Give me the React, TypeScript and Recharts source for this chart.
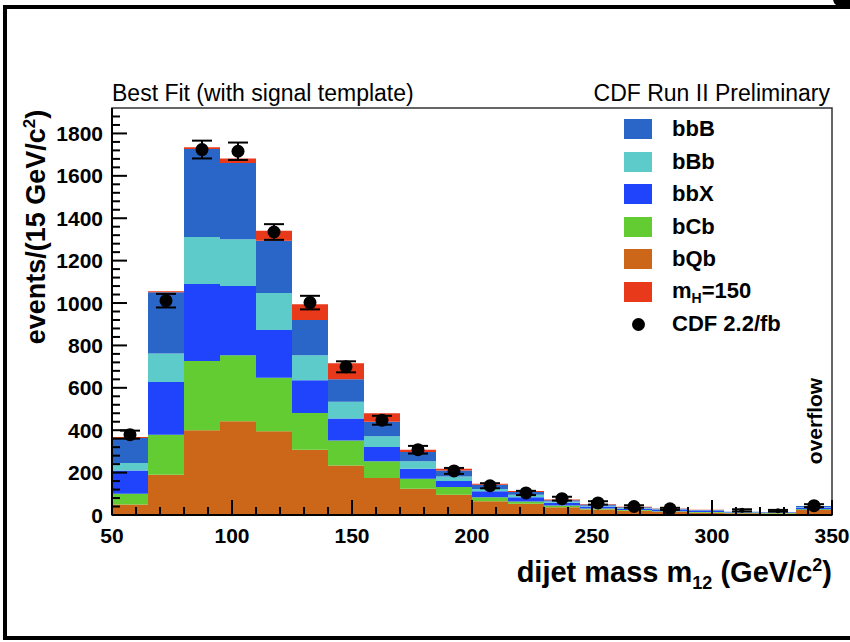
import React from 'react';
import { ComposedChart, Bar, Scatter, ErrorBar, XAxis, YAxis, ReferenceArea, Legend } from 'recharts';

// ---- data (events per 15 GeV/c^2 bin) ----
const binLow = [50, 65, 80, 95, 110, 125, 140, 155, 170, 185, 200, 215, 230, 245, 260, 275, 290, 305, 320, 335];
const binWidth = 15;
const bQb = [50, 190, 400, 442, 395, 308, 234, 174, 124, 96, 65, 53, 37, 26, 20, 15, 11, 8, 7, 24];
const bCb = [50, 189, 326, 312, 252, 173, 118, 79, 47, 36, 19, 11, 8, 5, 4, 3, 3, 3, 3, 3];
const bbX = [110, 249, 364, 326, 226, 155, 103, 68, 47, 28, 28, 20, 13, 9, 6, 6, 6, 2, 2, 7];
const bBb = [35, 134, 221, 221, 174, 118, 79, 51, 35, 22, 11, 11, 6, 4, 3, 2, 1, 1, 0, 2];
const bbB = [118, 289, 416, 359, 247, 166, 106, 68, 44, 28, 20, 13, 6, 6, 4, 4, 3, 1, 1, 6];
const signal = [5, 5, 8, 22, 47, 74, 76, 40, 11, 8, 5, 5, 3, 2, 2, 1, 1, 0, 0, 0];
const cdfData = [379, 1011, 1724, 1716, 1335, 1002, 699, 447, 308, 208, 138, 104, 77, 57, 40, 29, 0, 22, 20, 44];
const cdfErr = [19, 32, 42, 41, 37, 32, 26, 21, 18, 14, 12, 10, 9, 8, 6, 5, 0, 5, 4, 7];

const xTicks = [50, 60, 70, 80, 90, 100, 110, 120, 130, 140, 150, 160, 170, 180, 190, 200, 210, 220, 230, 240, 250, 260, 270, 280, 290, 300, 310, 320, 330, 340, 350];
const xMajor = [50, 100, 150, 200, 250, 300, 350];
const yTicks = [0, 40, 80, 120, 160, 200, 240, 280, 320, 360, 400, 440, 480, 520, 560, 600, 640, 680, 720, 760, 800, 840, 880, 920, 960, 1000, 1040, 1080, 1120, 1160, 1200, 1240, 1280, 1320, 1360, 1400, 1440, 1480, 1520, 1560, 1600, 1640, 1680, 1720, 1760, 1800, 1840, 1880];
const yMajor = [0, 200, 400, 600, 800, 1000, 1200, 1400, 1600, 1800];

const seriesKeys = ['bbB', 'bBb', 'bbX', 'bCb', 'bQb', 'sig'];
const seriesNames = ['bbB', 'bBb', 'bbX', 'bCb', 'bQb', 'mH=150'];
const dataName = 'CDF 2.2/fb';

const COLORS: Record<string, string> = {
  bbB: '#2a66c8',
  bBb: '#5ecbcb',
  bbX: '#1f44fb',
  bCb: '#62cc32',
  bQb: '#cc6719',
  sig: '#e8391a',
};

const rows = binLow.map((b, i) => ({
  center: b + binWidth / 2,
  bQb: bQb[i],
  bCb: bCb[i],
  bbX: bbX[i],
  bBb: bBb[i],
  bbB: bbB[i],
  sig: signal[i],
  data: cdfData[i],
  err: cdfErr[i],
}));

const FONT = '"Liberation Sans", Arial, Helvetica, sans-serif';
const W = 850;
const H = 642;
const MARGIN = { top: 108, right: 18, bottom: 97, left: 0 };

const XTick = (props: any) => {
  const { x, y, payload } = props;
  const v = payload.value;
  const major = xMajor.includes(v);
  const len = major ? 15 : 8;
  const px = Number(x);
  const py = Number(y);
  return (
    <g>
      <rect x={px - 1} y={py - len} width={2} height={len} fill="#000" />
      {major && (
        <text x={px} y={py + 28} textAnchor="middle" fontSize={21} fontWeight="bold" fontFamily={FONT} fill="#000">
          {v}
        </text>
      )}
    </g>
  );
};

const YTick = (props: any) => {
  const { x, y, payload } = props;
  const v = payload.value;
  const major = yMajor.includes(v);
  const len = major ? 15 : 8;
  const px = Number(x);
  const py = Number(y);
  return (
    <g>
      <rect x={px} y={py - 1} width={len} height={2} fill="#000" />
      {major && (
        <text x={px - 9} y={py} dy="0.36em" textAnchor="end" fontSize={21} fontWeight="bold" fontFamily={FONT} fill="#000">
          {v}
        </text>
      )}
    </g>
  );
};

const DataDot = (props: any) => {
  const { cx, cy, payload } = props;
  if (!payload || !payload.data) return <g />;
  const r = payload.data < 25 ? 2.5 : 6.5;
  return <circle cx={cx} cy={cy} r={r} fill="#000" />;
};

const NoShape = () => <g />;

const renderLegend = () => (
  <div style={{ fontFamily: FONT, fontWeight: 'bold', fontSize: 22, color: '#000' }}>
    {seriesKeys.map((k, i) => (
      <div key={k} style={{ height: 32.5, display: 'flex', alignItems: 'center' }}>
        <div style={{ width: 28, height: 20, background: COLORS[k] }} />
        <div style={{ marginLeft: 20 }}>
          {k === 'sig' ? (
            <span>
              m<sub style={{ fontSize: 14, verticalAlign: -5 }}>H</sub>=150
            </span>
          ) : (
            seriesNames[i]
          )}
        </div>
      </div>
    ))}
    <div style={{ height: 32.5, display: 'flex', alignItems: 'center' }}>
      <div style={{ width: 28, display: 'flex', justifyContent: 'center' }}>
        <div style={{ width: 13, height: 13, borderRadius: '50%', background: '#000' }} />
      </div>
      <div style={{ marginLeft: 20 }}>{dataName}</div>
    </div>
  </div>
);

const xAxisProps = {
  dataKey: 'center',
  type: 'number' as const,
  domain: [50, 350],
  ticks: xTicks,
  interval: 0,
  allowDataOverflow: true,
  tickLine: false,
  tickSize: 0,
  tickMargin: 0,
  height: 30,
};
const yAxisProps = {
  type: 'number' as const,
  domain: [0, 1920],
  ticks: yTicks,
  interval: 0,
  allowDataOverflow: true,
  width: 112,
  tickLine: false,
  tickSize: 0,
  tickMargin: 0,
};

export default function App() {
  return (
    <div style={{ position: 'absolute', left: 0, top: 0, width: W, height: H, overflow: 'hidden', background: '#fff' }}>
      <div
        style={{
          position: 'absolute',
          left: 3,
          top: 5,
          width: 900,
          height: 635,
          border: '4px solid #000',
          boxSizing: 'border-box',
        }}
      />
      <div style={{ position: 'absolute', left: 833, top: -10, width: 22, height: 18, borderRadius: '50%', background: '#000' }} />

      {/* histogram + data points */}
      <div style={{ position: 'absolute', left: 0, top: 0, zIndex: 1 }}>
        <ComposedChart width={W} height={H} data={rows} margin={MARGIN} barCategoryGap={0} barGap={0}>
          <XAxis {...xAxisProps} tick={false} axisLine={false} />
          <YAxis {...yAxisProps} tick={false} axisLine={false} />
          <Bar dataKey="bQb" stackId="s" fill={COLORS.bQb} isAnimationActive={false} />
          <Bar dataKey="bCb" stackId="s" fill={COLORS.bCb} isAnimationActive={false} />
          <Bar dataKey="bbX" stackId="s" fill={COLORS.bbX} isAnimationActive={false} />
          <Bar dataKey="bBb" stackId="s" fill={COLORS.bBb} isAnimationActive={false} />
          <Bar dataKey="bbB" stackId="s" fill={COLORS.bbB} isAnimationActive={false} />
          <Bar dataKey="sig" stackId="s" fill={COLORS.sig} isAnimationActive={false} />
          <Scatter dataKey="data" fill="#000" shape={<DataDot />} isAnimationActive={false}>
            <ErrorBar dataKey="err" direction="y" width={10} stroke="#000" strokeWidth={2} />
          </Scatter>
          <Legend
            layout="vertical"
            align="center"
            verticalAlign="middle"
            content={renderLegend}
            wrapperStyle={{ top: 113, left: 624, width: 210 }}
          />
        </ComposedChart>
      </div>

      {/* axes, ticks and frame drawn above the histogram */}
      <div style={{ position: 'absolute', left: 0, top: 0, zIndex: 2, pointerEvents: 'none' }}>
        <ComposedChart width={W} height={H} data={rows} margin={MARGIN}>
          <XAxis {...xAxisProps} tick={<XTick />} axisLine={{ stroke: '#000', strokeWidth: 2 }} />
          <YAxis {...yAxisProps} tick={<YTick />} axisLine={{ stroke: '#000', strokeWidth: 2 }} />
          <ReferenceArea
            x1={50}
            x2={350}
            y1={0}
            y2={1920}
            fill="none"
            stroke="#333"
            strokeWidth={1.5}
            ifOverflow="visible"
          />
          <Scatter dataKey="data" shape={<NoShape />} isAnimationActive={false} legendType="none" />
        </ComposedChart>
      </div>

      <svg width={W} height={H} style={{ position: 'absolute', left: 0, top: 0, zIndex: 3, pointerEvents: 'none' }}>
        <g fontFamily={FONT} fill="#000">
          <text x={112} y={101} fontSize={23}>Best Fit (with signal template)</text>
          <text x={830} y={101} fontSize={23} textAnchor="end">CDF Run II Preliminary</text>
          <text transform="translate(45,227) rotate(-90)" textAnchor="middle" fontSize={27} fontWeight="bold">
            events/(15 GeV/c<tspan dy={-10} fontSize={17}>2</tspan>
            <tspan dy={10}>)</tspan>
          </text>
          <text x={832} y={582} textAnchor="end" fontSize={29} fontWeight="bold">
            dijet mass m<tspan dy={7} fontSize={18}>12</tspan>
            <tspan dy={-7}> (GeV/c</tspan>
            <tspan dy={-11} fontSize={18}>2</tspan>
            <tspan dy={11}>)</tspan>
          </text>
          <text transform="translate(822,421) rotate(-90)" textAnchor="middle" fontSize={21} fontWeight="bold">
            overflow
          </text>
        </g>
      </svg>
    </div>
  );
}
